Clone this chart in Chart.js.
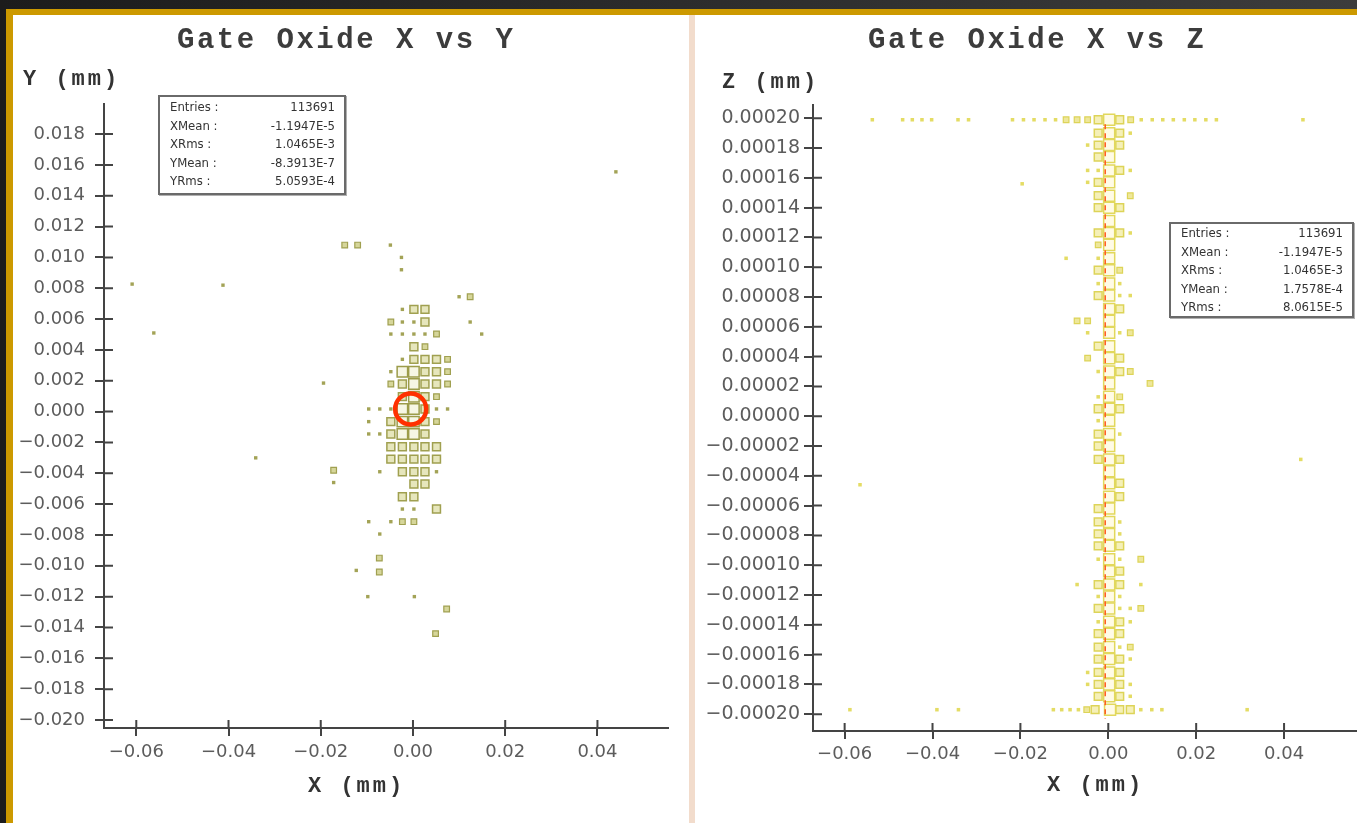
<!DOCTYPE html>
<html>
<head>
<meta charset="utf-8">
<script src="https://cdn.jsdelivr.net/npm/chart.js@4.4.1/dist/chart.umd.min.js"></script>
<style>
html, body { margin: 0; padding: 0; width: 1357px; height: 823px; overflow: hidden; background: linear-gradient(to right, #1c1c1c, #3c3c3c); }
#gold { position: absolute; left: 6px; top: 9px; width: 1351px; height: 814px; background: #cc9900; }
#paper { position: absolute; left: 13px; top: 15px; width: 1344px; height: 808px; background: #fff; }
#sep { position: absolute; left: 689px; top: 15px; width: 6px; height: 808px; background: #f2dccc; }
.box { position: absolute; top: 15px; height: 808px; }
.title { position: absolute; font: bold 29px "Liberation Mono", monospace; letter-spacing: 2.5px; color: #3c3c3c; white-space: nowrap; line-height: 29px; }
.axis { position: absolute; font: bold 22px "Liberation Mono", monospace; letter-spacing: 3px; color: #333; white-space: nowrap; line-height: 22px; }
.stats { position: absolute; box-sizing: border-box; border: 2px solid #6a6a6a; box-shadow: 1px 1px 0 #b0b0b0; background: #fff;
  font: 13px "DejaVu Sans Condensed", "Liberation Sans Narrow", "Liberation Sans", sans-serif; color: #333; padding: 1px 9px 0 10px; }
.stats div { display: flex; justify-content: space-between; height: 18.5px; line-height: 18.5px; }
</style>
</head>
<body>
<div id="gold"></div>
<div id="paper"></div>
<div id="sep"></div>

<div class="box" style="left:13px;width:676px"><canvas id="xyChart" width="676" height="808"></canvas></div>
<div class="box" style="left:695px;width:662px"><canvas id="xzChart" width="662" height="808"></canvas></div>

<div class="title" style="left:177px;top:26px">Gate Oxide X vs Y</div>
<div class="title" style="left:868px;top:26px">Gate Oxide X vs Z</div>
<div class="axis" style="left:23px;top:69px">Y (mm)</div>
<div class="axis" style="left:722px;top:72px">Z (mm)</div>
<div class="axis" style="left:308px;top:776px">X (mm)</div>
<div class="axis" style="left:1047px;top:775px">X (mm)</div>

<div class="stats" style="left:158px;top:95px;width:188px;height:100px">
  <div><span>Entries :</span><span>113691</span></div>
  <div><span>XMean :</span><span>-1.1947E-5</span></div>
  <div><span>XRms :</span><span>1.0465E-3</span></div>
  <div><span>YMean :</span><span>-8.3913E-7</span></div>
  <div><span>YRms :</span><span>5.0593E-4</span></div>
</div>
<div class="stats" style="left:1169px;top:222px;width:185px;height:96px;padding-top:0">
  <div><span>Entries :</span><span>113691</span></div>
  <div><span>XMean :</span><span>-1.1947E-5</span></div>
  <div><span>XRms :</span><span>1.0465E-3</span></div>
  <div><span>YMean :</span><span>1.7578E-4</span></div>
  <div><span>YRms :</span><span>8.0615E-5</span></div>
</div>

<script>
// ---- X vs Y histogram (bin centres + level 1..4 = dot, small, box, big box)
const xyCols = [-0.0096, -0.0072, -0.0048, -0.0023, 0.0002, 0.0026, 0.0051, 0.0075, 0.0100, 0.0124, 0.0149];
const xyRows = [0.00745, 0.00663, 0.00581, 0.00503, 0.00421, 0.00339, 0.00259, 0.00179, 0.00097, 0.00017,
  -0.00065, -0.00145, -0.00228, -0.00308, -0.0039, -0.0047, -0.00552, -0.00632, -0.00714, -0.00794];
const xyGrid = [
  [0,0,0,0,0,0,0,0,1,2,0],
  [0,0,0,1,3,3,0,0,0,0,0],
  [0,0,2,1,1,3,0,0,0,1,0],
  [0,0,1,1,1,1,2,0,0,0,1],
  [0,0,0,0,3,2,0,0,0,0,0],
  [0,0,0,1,3,3,3,2,0,0,0],
  [0,0,1,4,4,3,3,2,0,0,0],
  [0,0,2,3,4,3,3,2,0,0,0],
  [0,0,0,3,4,3,2,0,0,0,0],
  [1,1,1,4,4,3,1,1,0,0,0],
  [1,0,3,4,4,3,2,0,0,0,0],
  [1,1,3,4,4,3,0,0,0,0,0],
  [0,0,3,3,3,3,3,0,0,0,0],
  [0,0,3,3,3,3,3,0,0,0,0],
  [0,1,0,3,3,3,1,0,0,0,0],
  [0,0,0,0,3,3,0,0,0,0,0],
  [0,0,0,3,3,0,0,0,0,0,0],
  [0,0,0,1,1,0,3,0,0,0,0],
  [1,0,1,2,2,0,0,0,0,0,0],
  [0,1,0,0,0,0,0,0,0,0,0]
];
const xyOutliers = [
  [0.0440, 0.01555, 1], [-0.0609, 0.00827, 1], [-0.0412, 0.0082, 1], [-0.0562, 0.0051, 1],
  [-0.0341, -0.0030, 1], [-0.0148, 0.0108, 2], [-0.0120, 0.0108, 2], [-0.0049, 0.0108, 1],
  [-0.0025, 0.0100, 1], [-0.0025, 0.0092, 1], [-0.0194, 0.00185, 1], [-0.0172, -0.0038, 2],
  [-0.0172, -0.0046, 1], [-0.0123, -0.0103, 1], [-0.0073, -0.0104, 2], [-0.0073, -0.0095, 2],
  [-0.0098, -0.0120, 1], [0.0003, -0.0120, 1], [0.0073, -0.0128, 2], [0.0049, -0.0144, 2]
];
const xyMarker = [-0.0005, 0.00017];
const xyXRange = [-0.0670, 0.0553];
const xyYRange = [-0.02052, 0.01995];

// ---- X vs Z histogram
const xzCols = [-0.0071, -0.0047, -0.0023, 0.0002, 0.0026, 0.0050, 0.0074];
const xzRows = [0.000190, 0.000182, 0.000174, 0.000165, 0.000157, 0.000148, 0.000140, 0.000131, 0.000123, 0.000115,
  0.000106, 0.000098, 0.000089, 0.000081, 0.000072, 0.000064, 0.000056, 0.000047, 0.000039, 0.000030,
  0.000022, 0.000013, 0.000005, -0.000003, -0.000012, -0.000020, -0.000029, -0.000037, -0.000045, -0.000054,
  -0.000062, -0.000071, -0.000079, -0.000087, -0.000096, -0.000104, -0.000113, -0.000121, -0.000129, -0.000138,
  -0.000146, -0.000155, -0.000163, -0.000172, -0.000180, -0.000188];
const xzGrid = [
  [0,0,3,4,3,1,0], [0,1,3,4,3,0,0], [0,0,3,4,0,0,0], [0,1,1,4,3,1,0], [0,1,3,4,0,0,0],
  [0,0,3,4,0,2,0], [0,0,3,4,3,0,0], [0,0,0,4,0,0,0], [0,0,3,4,3,1,0], [0,0,2,4,0,0,0],
  [0,0,1,4,0,0,0], [0,0,3,4,2,0,0], [0,0,1,4,1,0,0], [0,0,3,4,1,1,0], [0,0,0,4,3,0,0],
  [2,2,0,4,0,0,0], [0,1,0,4,1,2,0], [0,0,3,4,0,0,0], [0,2,0,4,3,0,0], [0,0,1,4,3,2,0],
  [0,0,0,4,0,0,0], [0,0,1,4,2,0,0], [0,0,3,4,3,0,0], [0,0,1,4,0,0,0], [0,0,3,4,1,0,0],
  [0,0,3,4,0,0,0], [0,0,3,4,3,0,0], [0,0,0,4,0,0,0], [0,0,0,4,3,0,0], [0,0,0,4,3,0,0],
  [0,0,3,4,0,0,0], [0,0,3,4,1,0,0], [0,0,3,4,1,0,0], [0,0,3,4,3,0,0], [0,0,1,4,1,0,2],
  [0,0,0,4,3,0,0], [1,0,3,4,3,0,1], [0,0,1,4,1,0,0], [0,0,3,4,1,1,2], [0,0,1,4,3,1,0],
  [0,0,3,4,3,0,0], [0,0,3,4,1,2,0], [0,0,3,4,3,1,0], [0,1,3,4,3,0,0], [0,1,3,4,3,1,0],
  [0,0,3,4,3,1,0]
];
const xzTopZ = 0.000199;
const xzTopX = [-0.0537, -0.0468, -0.0446, -0.0424, -0.0402, -0.0342, -0.0318,
  -0.0218, -0.0193, -0.0169, -0.0144, -0.0120, -0.0096, -0.0071, -0.0047, -0.0023, 0.0002,
  0.0026, 0.0051, 0.0075, 0.0100, 0.0124, 0.0148, 0.0173, 0.0197, 0.0222, 0.0246, 0.0443];
const xzTopLevel = [1,1,1,1,1,1,1, 1,1,1,1,1,2,2,2,3,4, 3,2,1,1,1,1,1,1,1,1, 1];
const xzBottomZ = -0.000197;
const xzBottomX = [-0.0588, -0.0390, -0.0341, -0.0125, -0.0106, -0.0087, -0.0068, -0.0049, -0.0030,
  0.0004, 0.0026, 0.0050, 0.0074, 0.0099, 0.0122, 0.0316];
const xzBottomLevel = [1,1,1, 1,1,1,1, 2,3, 4, 3,3, 1,1,1, 1];
const xzOutliers = [[-0.0096, 0.000106, 1], [0.0095, 0.000022, 2], [0.0438, -0.000029, 1],
  [-0.0565, -0.000046, 1], [-0.0196, 0.000156, 1]];
const xzMeanX = -0.0007;
const xzMeanSpan = [0.000196, -0.000203];
const xzXRange = [-0.0672, 0.0566];
const xzZRange = [-0.0002113, 0.0002089];

function gridPoints(cols, rows, grid, level) {
  const pts = [];
  grid.forEach((row, r) => row.forEach((v, c) => {
    if (v === level) pts.push({x: cols[c], y: rows[r]});
  }));
  return pts;
}

function listPoints(list, level) {
  return list.filter(p => p[2] === level).map(p => ({x: p[0], y: p[1]}));
}

function rowPoints(xs, levels, z, level) {
  return xs.filter((x, i) => levels[i] === level).map(x => ({x: x, y: z}));
}

// inner half of the tick marks (they cross the axis line)
const crossTicks = {
  id: 'crossTicks',
  afterDraw(chart) {
    const {ctx, chartArea, scales} = chart;
    ctx.save();
    ctx.strokeStyle = '#444';
    ctx.lineWidth = 2;
    ctx.beginPath();
    scales.x.ticks.forEach(t => {
      const px = scales.x.getPixelForValue(t.value);
      ctx.moveTo(px, chartArea.bottom);
      ctx.lineTo(px, chartArea.bottom - 8);
    });
    scales.y.ticks.forEach(t => {
      const py = scales.y.getPixelForValue(t.value);
      ctx.moveTo(chartArea.left, py);
      ctx.lineTo(chartArea.left + 9, py);
    });
    ctx.stroke();
    ctx.restore();
  }
};

function fmt(v, digits) {
  const s = (Math.abs(v) < 1e-12 ? 0 : v).toFixed(digits);
  return s.replace('-', '\u2212');
}

function axisOpts(range, step, digits, pos, size, fontSize, pad) {
  return {
    type: 'linear',
    position: pos,
    min: range[0],
    max: range[1],
    afterFit(scale) {
      if (pos === 'left') scale.width = size; else scale.height = size;
    },
    border: {display: true, color: '#444', width: 2},
    grid: {display: true, drawOnChartArea: false, drawTicks: true, tickLength: pos === 'left' ? 9 : 8, color: '#444', lineWidth: 2},
    ticks: {
      stepSize: step,
      includeBounds: false,
      maxTicksLimit: 100,
      autoSkip: false,
      maxRotation: 0,
      padding: pad,
      color: '#5c5c5c',
      font: {family: 'DejaVu Sans', size: fontSize},
      callback: v => fmt(v, digits)
    }
  };
}

function levelSets(pointsByLevel, styles) {
  return pointsByLevel.map((pts, i) => ({
    data: pts,
    pointStyle: 'rect',
    pointRadius: styles[i].r,
    pointBackgroundColor: styles[i].fill,
    pointBorderColor: styles[i].line,
    pointBorderWidth: styles[i].w,
    showLine: false,
    order: 10 - i
  }));
}

const xyStyles = [
  {r: 2.4, fill: '#a3a356', line: '#a3a356', w: 0},
  {r: 4.0, fill: '#d6d69a', line: '#a0a050', w: 1.2},
  {r: 5.6, fill: '#e6e6bc', line: '#a0a050', w: 1.5},
  {r: 7.4, fill: '#f6f6e4', line: '#9c9c4a', w: 1.5}
];
const xzStyles = [
  {r: 2.5, fill: '#e4dc64', line: '#e4dc64', w: 0},
  {r: 4.0, fill: '#eee79a', line: '#ddd458', w: 1.2},
  {r: 5.5, fill: '#f5f0b8', line: '#ddd458', w: 1.5},
  {r: 7.8, fill: '#fffbe6', line: '#e2d85c', w: 1.5}
];

const xyByLevel = [1, 2, 3, 4].map(l => gridPoints(xyCols, xyRows, xyGrid, l).concat(listPoints(xyOutliers, l)));
const xzByLevel = [1, 2, 3, 4].map(l => gridPoints(xzCols, xzRows, xzGrid, l)
  .concat(listPoints(xzOutliers, l))
  .concat(rowPoints(xzTopX, xzTopLevel, xzTopZ, l))
  .concat(rowPoints(xzBottomX, xzBottomLevel, xzBottomZ, l)));

const common = {
  responsive: false,
  animation: false,
  devicePixelRatio: 1,
  plugins: {legend: {display: false}, tooltip: {enabled: false}, title: {display: false}}
};

new Chart(document.getElementById('xyChart'), {
  type: 'scatter',
  data: {
    datasets: levelSets(xyByLevel, xyStyles).concat([{
      data: [{x: xyMarker[0], y: xyMarker[1]}],
      pointStyle: 'circle',
      pointRadius: 15.5,
      pointBackgroundColor: 'rgba(0,0,0,0)',
      pointBorderColor: '#ff3000',
      pointBorderWidth: 4.5,
      order: 0
    }])
  },
  options: Object.assign({}, common, {
    layout: {autoPadding: false, padding: {left: 0, right: 21, top: 89, bottom: 0}},
    scales: {
      x: axisOpts(xyXRange, 0.02, 2, 'bottom', 95, 18, 6),
      y: axisOpts(xyYRange, 0.002, 3, 'left', 91, 18, 10)
    }
  }),
  plugins: [crossTicks]
});

new Chart(document.getElementById('xzChart'), {
  type: 'scatter',
  data: {
    datasets: levelSets(xzByLevel, xzStyles).concat([{
      data: [{x: xzMeanX, y: xzMeanSpan[0]}, {x: xzMeanX, y: xzMeanSpan[1]}],
      showLine: true,
      borderColor: '#ff5a1e',
      borderWidth: 1.5,
      borderDash: [5, 4],
      pointRadius: 0,
      order: 0
    }])
  },
  options: Object.assign({}, common, {
    layout: {autoPadding: false, padding: {left: 0, right: 0, top: 90, bottom: 0}},
    scales: {
      x: axisOpts(xzXRange, 0.02, 2, 'bottom', 92, 18, 5),
      y: axisOpts(xzZRange, 0.00002, 5, 'left', 118, 19, 4)
    }
  }),
  plugins: [crossTicks]
});
</script>
</body>
</html>
